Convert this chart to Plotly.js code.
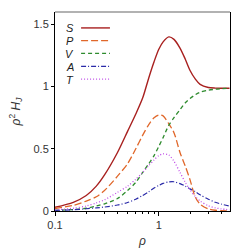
<!DOCTYPE html>
<html><head><meta charset="utf-8">
<script src="https://cdn.plot.ly/plotly-3.0.1.min.js"></script>
<style>html,body{margin:0;padding:0;background:#fff}#plot{width:249px;height:249px}</style>
</head><body><div id="plot"></div>
<script>
const rho = [0.1,0.15,0.2,0.25,0.3,0.4,0.5,0.6,0.7,0.8,0.9,1.0,1.1,1.25,1.4,1.6,1.8,2.0,2.25,2.5,3.0,3.5,4.0,4.8];
const S = [0.03,0.07,0.125,0.20,0.29,0.47,0.64,0.78,0.91,1.07,1.20,1.30,1.36,1.40,1.38,1.31,1.22,1.13,1.06,1.018,0.993,0.988,0.987,0.987];
const P = [0.02,0.045,0.08,0.115,0.165,0.28,0.38,0.50,0.61,0.695,0.75,0.772,0.765,0.70,0.63,0.47,0.36,0.25,0.11,0.055,0.017,0.006,0.003,0.001];
const V = [0.005,0.012,0.022,0.04,0.058,0.10,0.165,0.23,0.31,0.38,0.445,0.52,0.59,0.69,0.75,0.815,0.87,0.905,0.935,0.955,0.972,0.979,0.983,0.987];
const A = [0.005,0.01,0.018,0.025,0.032,0.048,0.068,0.095,0.125,0.155,0.185,0.205,0.222,0.234,0.235,0.22,0.20,0.178,0.155,0.13,0.095,0.07,0.055,0.04];
const T = [0.01,0.022,0.04,0.065,0.09,0.15,0.20,0.255,0.31,0.365,0.41,0.445,0.46,0.45,0.40,0.31,0.23,0.17,0.115,0.08,0.042,0.025,0.017,0.01];
const names = ['S','P','V','A','T'];
const series = [S,P,V,A,T];
const colors = ['#a8201f','#e0672a','#2e8b2e','#2a2aa8','#c050e8'];
const dashes = ['solid','7px,3px','4px,3px','5px,2px,1px,2px','1px,2px'];
const widths = [1.4,1.3,1.3,1.2,1.3];

const traces = series.map((y,i)=>({
  x: rho, y: y, type:'scatter', mode:'lines', name:names[i],
  line:{color:colors[i], dash:dashes[i], width:widths[i], shape:'spline', smoothing:0.8},
  showlegend:false, hoverinfo:'skip'
}));

const legY = [0.92,0.856,0.792,0.727,0.663];
const shapes = [
  {type:'line', xref:'paper', yref:'paper', x0:0, x1:1, y0:1, y1:1, line:{color:'#999', width:1.5}}
];
const annotations = [];
names.forEach((n,i)=>{
  shapes.push({type:'line', xref:'paper', yref:'paper', x0:0.149, x1:0.314, y0:legY[i], y1:legY[i],
    line:{color:colors[i], dash:dashes[i], width:widths[i]}});
  annotations.push({xref:'paper', yref:'paper', x:0.117, y:legY[i], xanchor:'right', yanchor:'middle',
    height:11, borderpad:0, text:'<i>'+n+'</i>', showarrow:false,
    font:{family:'Liberation Sans, Arial', size:11, color:'#222'}});
});

const layout = {
  width:249, height:249,
  margin:{l:55, r:19, t:12, b:38},
  paper_bgcolor:'#fff', plot_bgcolor:'#fff',
  font:{family:'Liberation Sans, Arial', size:11, color:'#333'},
  xaxis:{type:'log', range:[-1, Math.log10(4.85)], tickvals:[0.1,1], ticktext:['0.1','1'],
    ticks:'outside', ticklen:4, tickcolor:'#000', showline:true, linecolor:'#000', linewidth:1,
    showgrid:false, zeroline:false,
    minor:{tickvals:[0.2,0.3,0.4,0.5,0.6,0.7,0.8,0.9,2,3,4], ticks:'outside', ticklen:2, tickcolor:'#000', showgrid:false},
    title:{text:'<i>ρ</i>', font:{size:12, color:'#333'}, standoff:6}},
  yaxis:{range:[0,1.6], tickvals:[0,0.5,1,1.5], ticktext:['0','0.5','1','1.5'],
    ticks:'outside', ticklen:3, tickcolor:'#000', showline:true, linecolor:'#000', linewidth:1, mirror:true,
    showgrid:false, zeroline:false,
    title:{text:'<i>ρ</i><sup>2</sup> <i>H<sub>J</sub></i>', font:{size:12, color:'#333'}, standoff:10}},
  shapes:shapes, annotations:annotations
};
Plotly.newPlot('plot', traces, layout, {staticPlot:true, displayModeBar:false});
</script></body></html>
